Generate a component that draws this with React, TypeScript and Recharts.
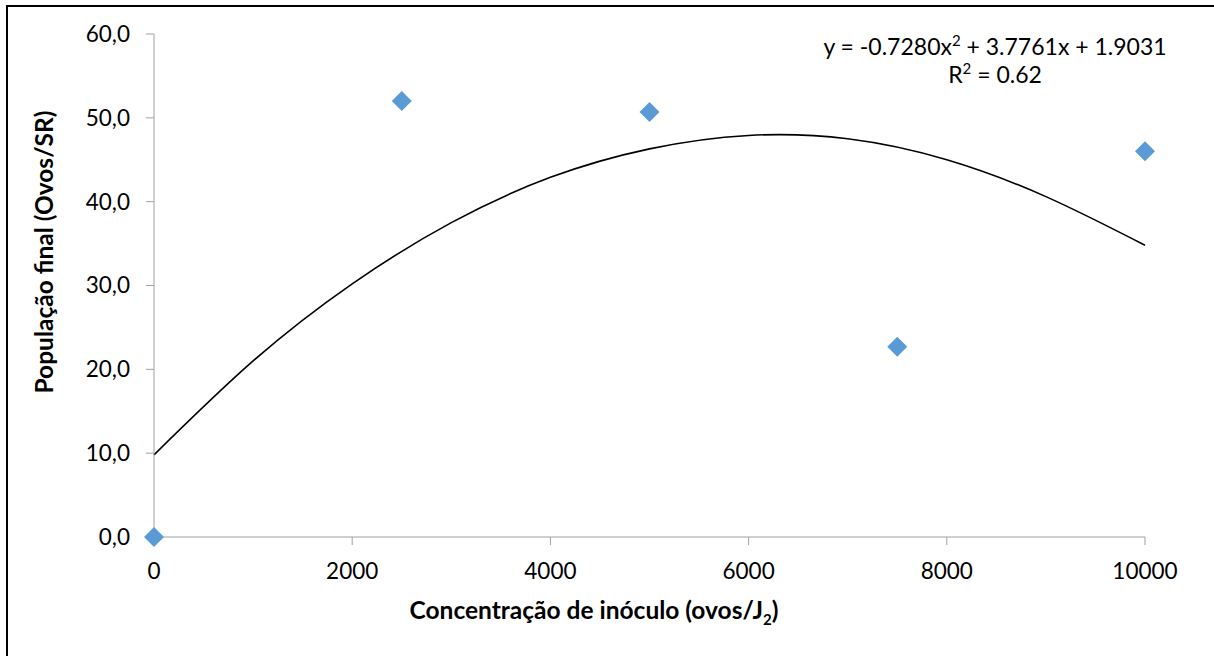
import React from "react";
import {
  ComposedChart,
  Line,
  Scatter,
  XAxis,
  YAxis,
} from "recharts";

// observed points (concentração de inóculo vs população final)
const inoculum = [0, 2500, 5000, 7500, 10000];
const population = [0, 52.0, 50.7, 22.7, 46.0];

// polynomial trendline as drawn, every 1000
const trendX = [0, 1000, 2000, 3000, 4000, 5000, 6000, 7000, 8000, 9000, 10000];
const trendY = [9.8, 21.0, 30.2, 37.5, 42.9, 46.3, 47.9, 47.5, 45.0, 40.6, 34.8];

const xTicks = [0, 2000, 4000, 6000, 8000, 10000];
const yTicks = [0, 10, 20, 30, 40, 50, 60];

const FONT = "Lato, 'Open Sans', sans-serif";
const AXIS = "#A0A0A0";
const MARKER = "#5B9BD5";

const points = inoculum.map((x, i) => ({ x, y: population[i] }));
const trend = trendX.map((x, i) => ({ x, t: trendY[i] }));

const fmtY = (v: number) => v.toFixed(1).replace(".", ",");

function Diamond(props: any) {
  const { cx, cy } = props;
  const r = 10;
  return (
    <polygon
      points={`${cx},${cy - r} ${cx + r},${cy} ${cx},${cy + r} ${cx - r},${cy}`}
      fill={MARKER}
    />
  );
}

const sup = { fontSize: 15, lineHeight: 0 };

export default function App() {
  return (
    <div
      style={{
        position: "absolute",
        left: 0,
        top: 0,
        width: 1214,
        height: 656,
        overflow: "hidden",
        background: "#fff",
        fontFamily: FONT,
      }}
    >
      <div
        style={{
          position: "absolute",
          left: 6,
          top: 5,
          width: 1220,
          height: 700,
          border: "2px solid #000",
        }}
      />
      <div style={{ position: "absolute", left: 0, top: 0 }}>
        <ComposedChart
          width={1214}
          height={656}
          margin={{ top: 34, right: 69, left: 94, bottom: 89 }}
        >
          <XAxis
            type="number"
            dataKey="x"
            domain={[0, 10000]}
            ticks={xTicks}
            stroke={AXIS}
            tickSize={8}
            tickMargin={18}
            height={30}
            tick={{ fill: "#000", fontSize: 22.5, fontFamily: FONT }}
          />
          <YAxis
            type="number"
            domain={[0, 60]}
            ticks={yTicks}
            stroke={AXIS}
            tickSize={8}
            tickMargin={16}
            width={60}
            tickFormatter={fmtY}
            tick={{ fill: "#000", fontSize: 22.5, fontFamily: FONT }}
          />
          <Line
            data={trend}
            dataKey="t"
            type="natural"
            stroke="#000"
            strokeWidth={1.6}
            dot={false}
            activeDot={false}
            isAnimationActive={false}
          />
          <Scatter
            data={points}
            dataKey="y"
            shape={<Diamond />}
            isAnimationActive={false}
          />
        </ComposedChart>
      </div>
      <div
        style={{
          position: "absolute",
          left: 795,
          top: 32,
          width: 400,
          textAlign: "center",
          fontSize: 23,
          lineHeight: "28px",
          color: "#000",
        }}
      >
        <div>
          y = -0.7280x<sup style={sup}>2</sup> + 3.7761x + 1.9031
        </div>
        <div>
          R<sup style={sup}>2</sup> = 0.62
        </div>
      </div>
      <div
        style={{
          position: "absolute",
          left: 394,
          top: 595,
          width: 400,
          textAlign: "center",
          fontSize: 24.5,
          fontWeight: "bold",
          color: "#000",
        }}
      >
        Concentração de inóculo (ovos/J<sub style={sup}>2</sub>)
      </div>
      <div
        style={{
          position: "absolute",
          left: 43,
          top: 252,
          width: 400,
          textAlign: "center",
          fontSize: 24.5,
          fontWeight: "bold",
          color: "#000",
          transform: "translate(-50%, -50%) rotate(-90deg)",
        }}
      >
        População final (Ovos/SR)
      </div>
    </div>
  );
}
